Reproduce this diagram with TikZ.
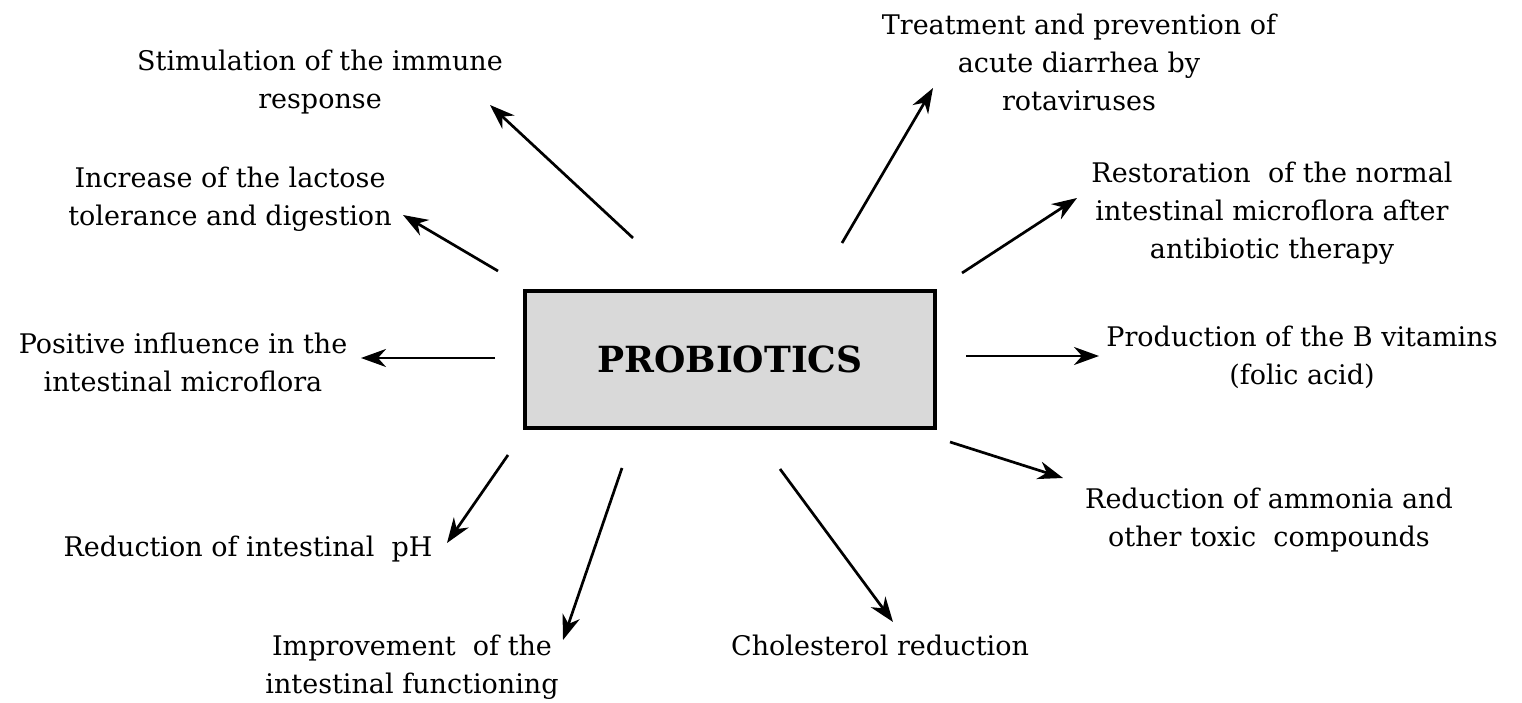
\documentclass[tikz,border=0pt]{standalone}
\usepackage{fontspec}
\setmainfont{DejaVu Serif}
\usetikzlibrary{arrows.meta}
\tikzset{
  lbl/.style={align=center, inner sep=0pt, font=\fontsize{27}{38}\selectfont},
  arr/.style={line width=2.7pt, -{Stealth[length=25pt,width=18pt,inset=8pt]}},
  mainbox/.style={draw, line width=4.5pt, fill=black!15, minimum width=410pt, minimum height=137pt, inner sep=0pt, font=\fontsize{36}{40}\selectfont\bfseries}
}
\begin{document}
\begin{tikzpicture}[x=1pt,y=-1pt]
\useasboundingbox (0,0) rectangle (1522,703);
\node[mainbox] (pro) at (730,359.5) {PROBIOTICS};

\node[lbl] (t1) at (320,82) {Stimulation of the immune\\response};
\node[lbl] (t2) at (230,199) {Increase of the lactose\\tolerance and digestion};
\node[lbl] (t3) at (183,362) {Positive influence in the\\intestinal microflora};
\node[lbl] (t4) at (248,549) {Reduction of intestinal\ \ pH};
\node[lbl] (t5) at (412,667) {Improvement\ \ of the\\intestinal functioning};
\node[lbl] (t6) at (880,645) {Cholesterol reduction};
\node[lbl] (t7) at (1269,520) {Reduction of ammonia and\\other toxic\ \ compounds};
\node[lbl] (t8) at (1302,357) {Production of the B vitamins\\(folic acid)};
\node[lbl] (t9) at (1272,213) {Restoration\ \ of the normal\\intestinal microflora after\\antibiotic therapy};
\node[lbl] (t10) at (1079,62) {Treatment and prevention of\\acute diarrhea by\\rotaviruses};

\coordinate (s1) at (633,238);  \coordinate (e1) at (490,105);
\coordinate (s2) at (498,271);  \coordinate (e2) at (403,215);
\coordinate (s3) at (495,358);  \coordinate (e3) at (361,358);
\coordinate (s4) at (508,455);  \coordinate (e4) at (447,543);
\coordinate (s5) at (622,468);  \coordinate (e5) at (563,640);
\coordinate (s6) at (780,469);  \coordinate (e6) at (893,622);
\coordinate (s7) at (950,442);  \coordinate (e7) at (1063,478);
\coordinate (s8) at (966,356);  \coordinate (e8) at (1099,356);
\coordinate (s9) at (962,273);  \coordinate (e9) at (1077,198);
\coordinate (s10) at (842,243); \coordinate (e10) at (933,88);

\foreach \i in {1,...,10}{\draw[arr] (s\i) -- (e\i);}
\end{tikzpicture}
\end{document}
